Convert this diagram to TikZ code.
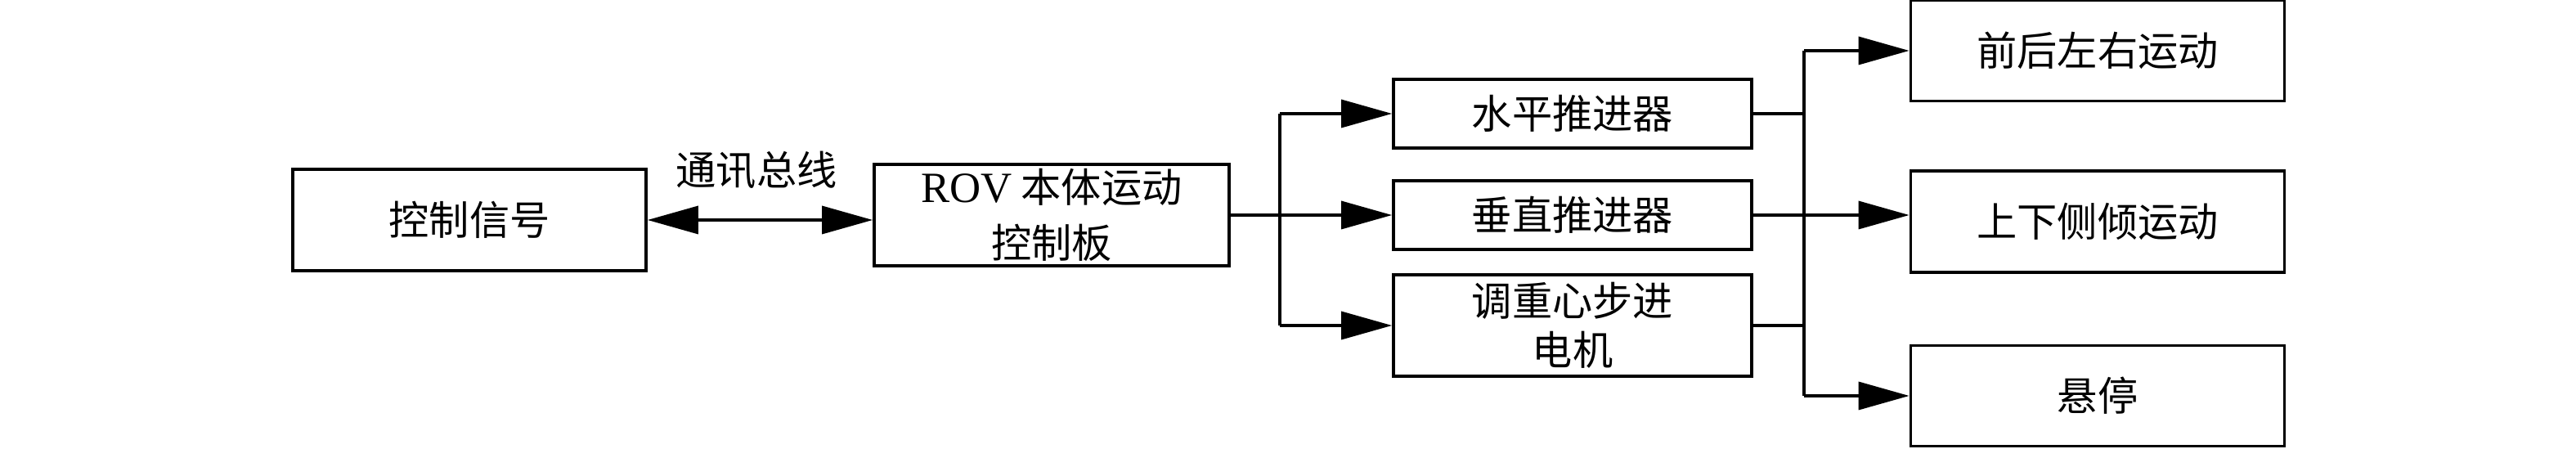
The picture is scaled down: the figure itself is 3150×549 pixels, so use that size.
\documentclass[tikz,border=0pt]{standalone}
\usepackage{fontspec}
\setmainfont{Liberation Serif}
\newfontfamily\cjk{Noto Sans CJK SC}
\usetikzlibrary{arrows.meta}
\begin{document}
\begin{tikzpicture}[x=0.01cm,y=-0.01cm,
  box/.style={draw,line width=1pt,rectangle,inner sep=0pt,align=center,
    font=\cjk\fontsize{14}{17}\selectfont},
  conn/.style={line width=1pt},
  arr/.style={line width=1pt,-{Triangle[length=0.62cm,width=0.34cm]}},
  darr/.style={line width=1pt,{Triangle[length=0.62cm,width=0.34cm]}-{Triangle[length=0.62cm,width=0.34cm]}}]
\useasboundingbox (0,0) rectangle (3150,549);
\node[box,minimum width=4.32cm,minimum height=1.24cm] (ctrl) at (574,269) {控制信号};
\node[box,minimum width=4.34cm,minimum height=1.24cm,font=\cjk\fontsize{14}{19.4}\selectfont] (rov) at (1286,263) {{\rmfamily\fontsize{15}{19.4}\selectfont ROV} 本体运动\\控制板};
\node[font=\cjk\fontsize{14}{17}\selectfont] (bus) at (925,208) {通讯总线};
\node[box,minimum width=4.38cm,minimum height=0.84cm] (m1) at (1923,139) {水平推进器};
\node[box,minimum width=4.38cm,minimum height=0.84cm] (m2) at (1923,263) {垂直推进器};
\node[box,minimum width=4.38cm,minimum height=1.24cm] (m3) at (1923,398) {调重心步进\\电机};
\node[box,minimum width=4.57cm,minimum height=1.23cm] (ra) at (2565,62) {前后左右运动};
\node[box,minimum width=4.57cm,minimum height=1.24cm] (rb) at (2565,271) {上下侧倾运动};
\node[box,minimum width=4.57cm,minimum height=1.23cm] (rc) at (2565,484) {悬停};
\coordinate (f1) at (1565,263);
\coordinate (f2) at (2206,263);
\draw[darr] (ctrl.east) -- (ctrl.east -| rov.west);
\draw[conn] (rov.east) -- (f1);
\draw[conn] (f1 |- m1.west) -- (f1 |- m3.west);
\draw[arr] (f1 |- m1.west) -- (m1.west);
\draw[arr] (f1) -- (m2.west);
\draw[arr] (f1 |- m3.west) -- (m3.west);
\draw[conn] (m1.east) -- (m1.east -| f2);
\draw[conn] (m3.east) -- (m3.east -| f2);
\draw[conn] (f2 |- ra.west) -- (f2 |- rc.west);
\draw[arr] (m2.east) -- (m2.east -| rb.west);
\draw[arr] (f2 |- ra.west) -- (ra.west);
\draw[arr] (f2 |- rc.west) -- (rc.west);
\end{tikzpicture}
\end{document}
